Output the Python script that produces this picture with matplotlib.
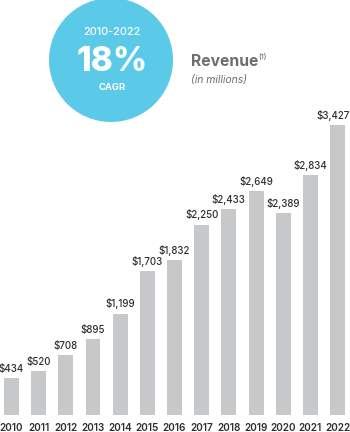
import matplotlib
matplotlib.use("Agg")
import matplotlib.pyplot as plt
from matplotlib.patches import Circle

# data
years = ["2010", "2011", "2012", "2013", "2014", "2015", "2016",
         "2017", "2018", "2019", "2020", "2021", "2022"]
revenue = [434, 520, 708, 895, 1199, 1703, 1832,
           2250, 2433, 2649, 2389, 2834, 3427]
cagr_period = "2010-2022"
cagr_value = "18%"

BAR_COLOR = "#c6c8ca"
CIRCLE_COLOR = "#5bc9e8"
TEXT_DARK = "#2e2e30"
TEXT_GRAY = "#6d6e71"

plt.rcParams["font.family"] = ["Inter", "DejaVu Sans"]

fig = plt.figure(figsize=(3.5, 4.32), dpi=100)

# bar axes spanning the full figure
ax = fig.add_axes([0, 0, 1, 1])
x = list(range(len(years)))
ax.bar(x, revenue, width=0.55, color=BAR_COLOR)
ax.set_xlim(-0.423, 12.458)
ax.set_ylim(-201, 4905)
ax.axis("off")

for i, (yr, v) in enumerate(zip(years, revenue)):
    # last label sits right at the edge, nudge it in a bit
    dx = -3 if i == len(years) - 1 else 0
    ax.annotate(f"${v:,}", (i, v), xytext=(dx, 3), textcoords="offset points",
                ha="center", va="bottom", fontsize=7.0, color=TEXT_DARK,
                fontweight="medium")
    ax.annotate(yr, (i, 0), xytext=(0, -9.5), textcoords="offset points",
                ha="center", va="center", fontsize=7.2, color=TEXT_DARK,
                fontweight="semibold")

# overlay in pixel coordinates for the header
ov = fig.add_axes([0, 0, 1, 1], facecolor="none")
ov.set_xlim(0, 350)
ov.set_ylim(432, 0)
ov.axis("off")
ov.add_patch(Circle((111, 60), 62, color=CIRCLE_COLOR, lw=0))
ov.text(112, 32, cagr_period, ha="center", va="center", fontsize=7.8,
        color="white", fontweight="medium")
ov.text(112, 62, cagr_value, ha="center", va="center", fontsize=24,
        color="white", fontweight="heavy")
ov.text(112, 88, "CAGR", ha="center", va="center", fontsize=6.8,
        color="white", fontweight="bold")

ov.text(191, 62, "Revenue", ha="left", va="center", fontsize=11.3,
        color=TEXT_GRAY, fontweight="bold")
ov.text(258, 56, "(1)", ha="left", va="center", fontsize=5.2,
        color=TEXT_GRAY, fontweight="medium")
ov.text(191, 80, "(in millions)", ha="left", va="center", fontsize=7.5,
        color=TEXT_GRAY, style="italic")

fig.savefig("out.png", dpi=100)
